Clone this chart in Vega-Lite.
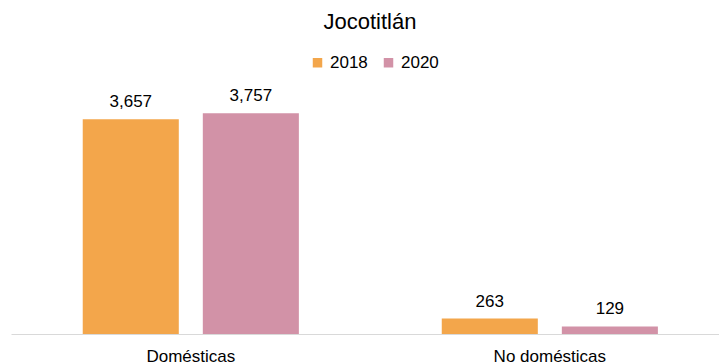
{
  "$schema": "https://vega.github.io/schema/vega-lite/v6.json",
  "width": 708,
  "height": 235,
  "autosize": {"type": "none"},
  "padding": {"left": 11, "top": 99, "right": 0, "bottom": 30},
  "background": "white",
  "title": {
    "text": "Jocotitlán",
    "anchor": "middle",
    "frame": "group",
    "orient": "top",
    "baseline": "alphabetic",
    "offset": 3,
    "dx": 5,
    "font": "Liberation Sans",
    "fontSize": 22,
    "fontWeight": "normal",
    "color": "#000000"
  },
  "data": {
    "values": [
      {"tipo": "Domésticas", "anio": "2018", "valor": 3657},
      {"tipo": "Domésticas", "anio": "2020", "valor": 3757},
      {"tipo": "No domésticas", "anio": "2018", "valor": 263},
      {"tipo": "No domésticas", "anio": "2020", "valor": 129}
    ]
  },
  "encoding": {
    "x": {
      "field": "tipo",
      "type": "nominal",
      "sort": ["Domésticas", "No domésticas"],
      "scale": {"paddingInner": 0.398, "paddingOuter": 0.185, "align": 0.54},
      "axis": {
        "title": null,
        "labelAngle": 0,
        "ticks": false,
        "domainColor": "#d9d9d9",
        "domainWidth": 1,
        "labelFont": "Liberation Sans",
        "labelFontSize": 17,
        "labelColor": "#000000",
        "labelBaseline": "alphabetic",
        "labelPadding": 27
      }
    },
    "xOffset": {
      "field": "anio",
      "type": "nominal",
      "scale": {"paddingInner": 0.2, "paddingOuter": 0}
    },
    "y": {
      "field": "valor",
      "type": "quantitative",
      "scale": {"domain": [0, 4000], "nice": false},
      "axis": null
    }
  },
  "layer": [
    {
      "mark": {"type": "bar"},
      "encoding": {
        "color": {
          "field": "anio",
          "type": "nominal",
          "scale": {"domain": ["2018", "2020"], "range": ["#F3A64B", "#D292A7"]},
          "legend": {
            "title": null,
            "orient": "none",
            "direction": "horizontal",
            "legendX": 298,
            "legendY": -45,
            "symbolType": "square",
            "symbolSize": 90,
            "symbolStrokeWidth": 0,
            "labelFont": "Liberation Sans",
            "labelFontSize": 17,
            "labelColor": "#000000",
            "labelOffset": 4,
            "columnPadding": 12
          }
        }
      }
    },
    {
      "mark": {
        "type": "text",
        "baseline": "alphabetic",
        "dy": -12,
        "font": "Liberation Sans",
        "fontSize": 17,
        "color": "#000000"
      },
      "encoding": {
        "text": {"field": "valor", "type": "quantitative", "format": ","}
      }
    }
  ],
  "config": {
    "view": {"stroke": null},
    "axis": {"grid": false}
  }
}
